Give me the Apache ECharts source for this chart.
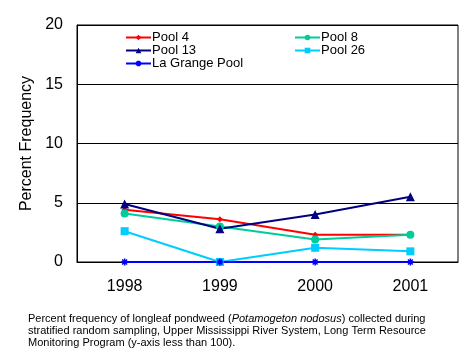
<!DOCTYPE html>
<html><head><meta charset="utf-8">
<script src="https://cdn.jsdelivr.net/npm/echarts@6/dist/echarts.min.js"></script>
<style>html,body{margin:0;padding:0;background:#fff}#c{width:468px;height:360px}</style>
</head><body><div id="c"></div>
<script>
var categories = ['1998', '1999', '2000', '2001'];
var pool4 = [4.4, 3.6, 2.3, 2.3];
var pool8 = [4.1, 3.0, 1.9, 2.3];
var pool13 = [4.9, 2.8, 4.0, 5.5];
var pool26 = [2.6, 0.0, 1.2, 0.9];
var laGrange = [0, 0, 0, 0];
var yTicks = [0, 5, 10, 15, 20];

var F = 'Arial, "Liberation Sans", sans-serif';
var star = 'path://M5,0L5,10M0,5L10,5M1.5,1.5L8.5,8.5M8.5,1.5L1.5,8.5';
function s(name, data, color, symbol, size, extra) {
  var o = {name: name, type: 'line', data: data, symbol: symbol, symbolSize: size,
    lineStyle: {color: color, width: 2}, itemStyle: {color: color}, animation: false};
  if (extra) for (var k in extra) o[k] = extra[k];
  return o;
}
var legTxt = {fontSize: 13, color: '#000', fontFamily: F, padding: [0,0,0,-4], lineHeight: 12.5, height: 12.5};
var chart = echarts.init(document.getElementById('c'));
chart.setOption({
  animation: false,
  backgroundColor: '#fff',
  textStyle: {fontFamily: F},
  grid: {left: 77, right: 10, top: 25, bottom: 98, show: true, borderColor: '#000', borderWidth: 1},
  legend: [
    {data: ['Pool 4', 'Pool 13', 'La Grange Pool'], orient: 'vertical', left: 120, top: 26, itemGap: 0,
     itemWidth: 25, itemHeight: 7, textStyle: legTxt},
    {data: ['Pool 8', 'Pool 26'], orient: 'vertical', left: 289, top: 26, itemGap: 0,
     itemWidth: 25, itemHeight: 7, textStyle: legTxt}
  ],
  title: {
    text: 'Percent frequency of longleaf pondweed ({i|Potamogeton nodosus}) collected during\nstratified random sampling, Upper Mississippi River System, Long Term Resource\nMonitoring Program (y-axis less than 100).',
    left: 23, top: 308,
    textStyle: {fontSize: 11, fontWeight: 'normal', color: '#000', fontFamily: F, lineHeight: 12,
      rich: {i: {fontStyle: 'italic', fontSize: 11, fontFamily: F, color: '#000', lineHeight: 12}}}
  },
  xAxis: {
    type: 'category', data: categories, boundaryGap: true,
    axisLine: {lineStyle: {color: '#000', width: 1}},
    axisTick: {inside: true, length: 5, lineStyle: {color: '#000'}},
    axisLabel: {fontSize: 16, color: '#000', margin: 17, fontFamily: F},
    splitLine: {show: false}
  },
  yAxis: {
    type: 'value', min: yTicks[0], max: yTicks[yTicks.length - 1], interval: 5,
    name: 'Percent Frequency', nameLocation: 'middle', nameGap: 42,
    nameTextStyle: {fontSize: 16, color: '#000', fontFamily: F},
    axisLine: {show: true, lineStyle: {color: '#000'}},
    axisTick: {show: false},
    axisLabel: {fontSize: 16, color: '#000', margin: 14, fontFamily: F},
    splitLine: {lineStyle: {color: '#000', width: 1}}
  },
  series: [
    s('Pool 4', pool4, '#FF0000', 'diamond', 6),
    s('Pool 8', pool8, '#00CC99', 'circle', 8),
    s('Pool 13', pool13, '#000080', 'triangle', 9),
    s('Pool 26', pool26, '#00CCFF', 'rect', 8),
    s('La Grange Pool', laGrange, '#0000FF', star, 7, {itemStyle: {color: '#0000FF', borderColor: '#0000FF', borderWidth: 1.5}})
  ]
});
</script></body></html>
